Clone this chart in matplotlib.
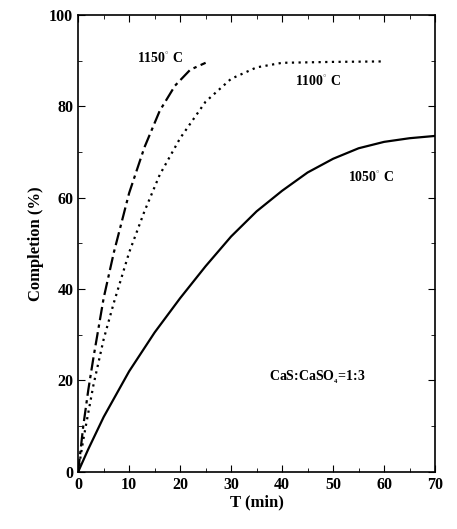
import numpy as np
import matplotlib.pyplot as plt

plt.rcParams['font.family'] = ['Liberation Serif', 'DejaVu Serif']
plt.rcParams['font.weight'] = 'bold'
plt.rcParams['mathtext.fontset'] = 'custom'
plt.rcParams['mathtext.rm'] = 'Liberation Serif:bold'
plt.rcParams['mathtext.it'] = 'Liberation Serif:bold'
plt.rcParams['mathtext.bf'] = 'Liberation Serif:bold'
plt.rcParams['mathtext.default'] = 'rm'

t_1050 = [0, 2, 5, 10, 15, 20, 25, 30, 35, 40, 45, 50, 55, 60, 65, 70]
c_1050 = [0, 5, 12, 22, 30.5, 38, 45, 51.5, 57, 61.5, 65.5, 68.5, 70.8, 72.2, 73, 73.5]

t_1100 = [0, 1, 2, 3, 5, 7, 10, 13, 16, 20, 25, 30, 35, 40, 50, 60]
c_1100 = [0, 7, 13, 19, 29, 37, 48, 57, 65, 73, 81, 86, 88.5, 89.5, 89.7, 89.8]

t_1150 = [0, 1, 2, 3, 5, 7, 10, 13, 16, 19, 22, 25]
c_1150 = [0, 10, 18, 25, 38, 48, 61, 71, 79, 84.5, 88, 89.5]

fig = plt.figure(figsize=(4.57, 5.29), dpi=100)
ax = fig.add_axes([0.171, 0.108, 0.781, 0.864])

ax.plot(t_1050, c_1050, color='black', lw=1.6, ls='-')
ax.plot(t_1100, c_1100, color='black', lw=1.6, ls=(0, (1, 2)))
ax.plot(t_1150, c_1150, color='black', lw=1.6, ls=(0, (6, 2, 1.5, 2)))

ax.text(11.5, 89.5, '1150$^{^{\\circ}}$ C', fontsize=10, fontweight='bold')
ax.text(42.5, 84.5, '1100$^{^{\\circ}}$ C', fontsize=10, fontweight='bold')
ax.text(53, 63.5, '1050$^{^{\\circ}}$ C', fontsize=10, fontweight='bold')
ax.text(37.5, 20, 'CaS:CaSO$_{_4}$=1:3', fontsize=10, fontweight='bold')

ax.set_xlim(0, 70)
ax.set_ylim(0, 100)
ax.set_xticks(range(0, 71, 10))
ax.set_yticks(range(0, 101, 20))
ax.xaxis.set_minor_locator(plt.MultipleLocator(5))
ax.yaxis.set_minor_locator(plt.MultipleLocator(10))
ax.tick_params(which='both', direction='in', top=True, right=True, labelsize=11.5)
ax.tick_params(which='major', length=5)
ax.tick_params(which='minor', length=3)
for s in ax.spines.values():
    s.set_linewidth(1.2)
ax.set_xlabel('T (min)', fontsize=12, fontweight='bold', labelpad=1)
ax.set_ylabel('Completion (%)', fontsize=12, fontweight='bold')

fig.savefig('out.png', dpi=100)
